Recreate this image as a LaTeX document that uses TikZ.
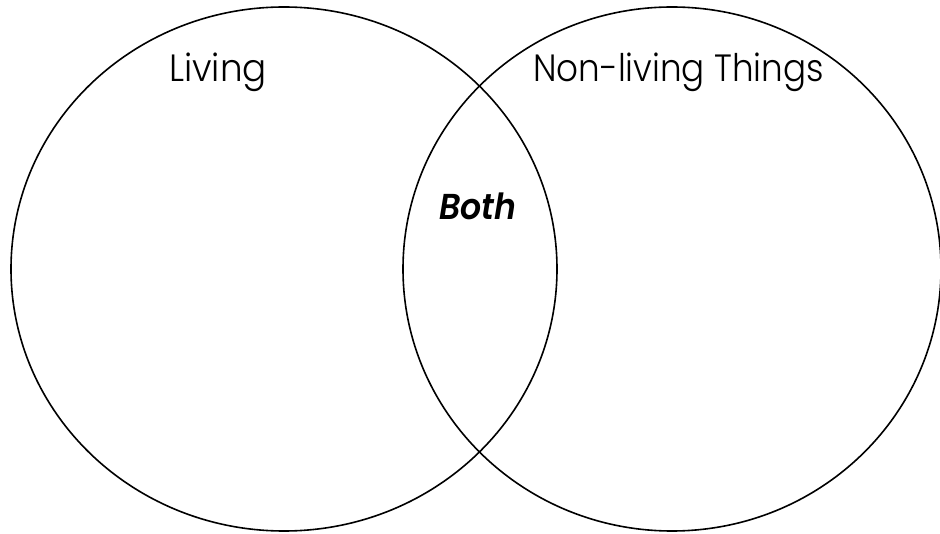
\documentclass[tikz,border=0pt]{standalone}
\usepackage{fontspec}
\setmainfont{Poppins}[UprightFont = * Light, BoldItalicFont = * SemiBold Italic]
\usetikzlibrary{shapes.geometric}
\begin{document}
\begin{tikzpicture}[x=1pt,y=1pt,
  setcircle/.style={ellipse, draw=black, line width=1.6pt, inner sep=0pt},
  settitle/.style={anchor=base west, inner sep=0pt, font=\fontsize{38}{44}\selectfont},
  bothlabel/.style={anchor=base west, inner sep=0pt, font=\fontsize{36}{42}\selectfont\bfseries\itshape}]
\useasboundingbox (0,0) rectangle (940,533);
\fill[white] (0,0) rectangle (940,533);
\node[setcircle, minimum width=546pt, minimum height=524pt] (living) at (284,264) {};
\node[setcircle, minimum width=538pt, minimum height=524pt] (nonliving) at (672,264) {};
\node[settitle] (tl) at (169,451) {\scalebox{0.94}[1]{Living}};
\node[settitle] (tn) at (533,451) {\scalebox{0.9}[1]{Non-living Things}};
\node[bothlabel] (tb) at (439,313) {\scalebox{0.92}[1]{Both}};
\end{tikzpicture}
\end{document}
